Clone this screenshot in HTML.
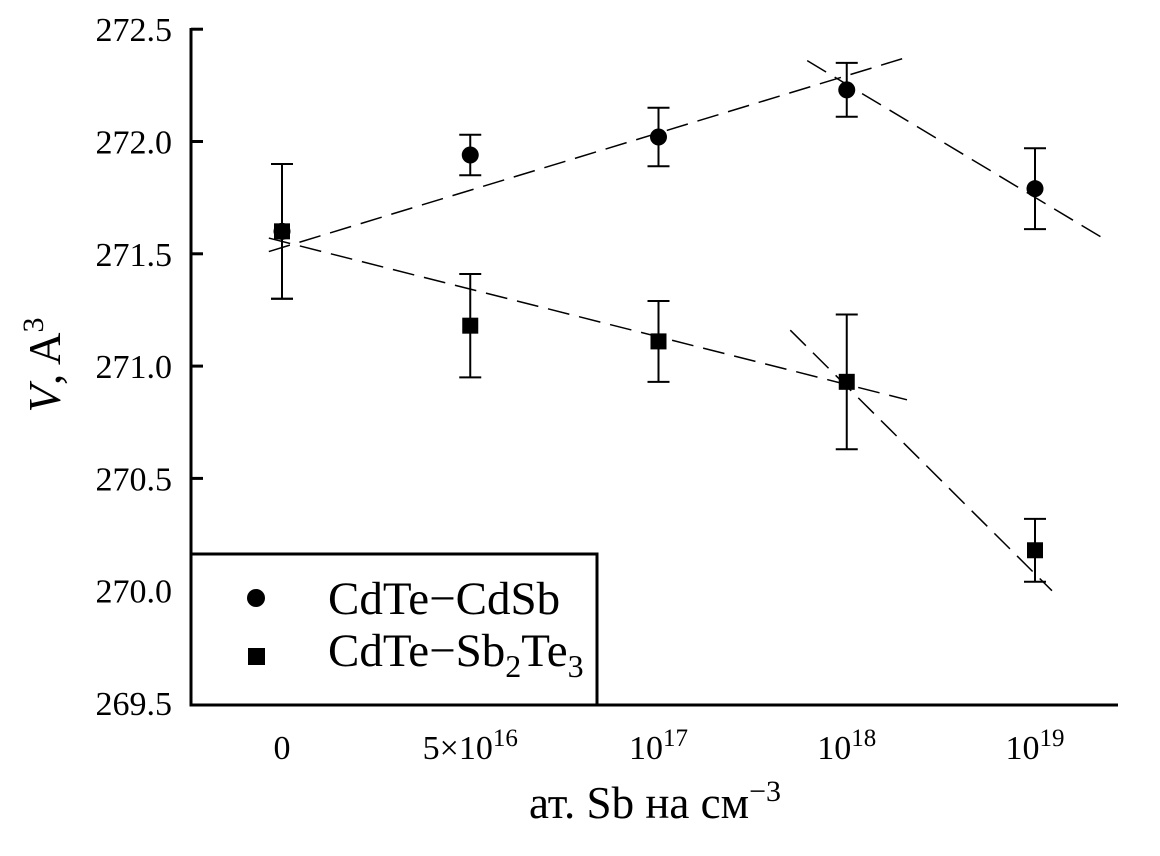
<!DOCTYPE html>
<html><head><meta charset="utf-8"><style>
body{margin:0;background:#fff}
svg{display:block;font-family:"Liberation Serif",serif}
</style></head><body>
<svg id="c" width="1160" height="856"></svg>
<script>
const categories=["0","5×10^16","10^17","10^18","10^19"];
const cdsbValues=[271.60,271.94,272.02,272.23,271.79];
const cdsbErrors=[0.30,0.09,0.13,0.12,0.18];
const sbteValues=[271.60,271.18,271.11,270.93,270.18];
const sbteErrors=[0.30,0.23,0.18,0.30,0.14];
const yTicks=[269.5,270.0,270.5,271.0,271.5,272.0,272.5];
const fitLines=[[-0.07,271.51,3.34,272.38],[2.79,272.36,4.38,271.56],[-0.07,271.57,3.32,270.85],[2.70,271.16,4.09,270.0]];
const NS="http://www.w3.org/2000/svg";
const svg=document.getElementById('c');
function X(i){return 282+i*188.25;}
function Y(v){return 703-(v-269.5)*224.6;}
function mk(t,a,p){const e=document.createElementNS(NS,t);for(const k in a)e.setAttribute(k,a[k]);(p||svg).appendChild(e);return e;}
let ax=mk('path',{d:'M191,705 L191,28 M191,705 L1118,705',stroke:'#000','stroke-width':3,fill:'none'});


yTicks.forEach(v=>{
  let t=mk('line',{x1:191,x2:203,y1:Y(v),y2:Y(v),stroke:'#000','stroke-width':3});
  
  
  let l=mk('text',{x:172,y:Y(v)+12,'text-anchor':'end','font-size':34});
  l.textContent=v.toFixed(1);
  
  
});
categories.forEach((c,i)=>{
  let l=mk('text',{x:X(i),y:759,'text-anchor':'middle','font-size':34});
  const p=c.split('^');
  l.appendChild(document.createTextNode(p[0]));
  if(p[1]){const s=mk('tspan',{dy:-13,'font-size':25},l);s.textContent=p[1];}
  
  
});
fitLines.forEach(f=>{
  let l=mk('line',{x1:X(f[0]),y1:Y(f[1]),x2:X(f[2]),y2:Y(f[3]),stroke:'#000','stroke-width':1.5,'stroke-dasharray':'22 10'});
  
  
});
function errbar(i,v,e){
  const x=X(i);
  let g=mk('path',{d:`M${x},${Y(v+e)}L${x},${Y(v-e)}M${x-11},${Y(v+e)}L${x+11},${Y(v+e)}M${x-11},${Y(v-e)}L${x+11},${Y(v-e)}`,stroke:'#000','stroke-width':2,fill:'none'});
  
  
}
sbteValues.forEach((v,i)=>{errbar(i,v,sbteErrors[i]);
  let r=mk('rect',{x:X(i)-8,y:Y(v)-8,width:16,height:16,fill:'#000'});
  
  
});
cdsbValues.forEach((v,i)=>{errbar(i,v,cdsbErrors[i]);
  let c=mk('circle',{cx:X(i),cy:Y(v),r:8.5,fill:'#000'});
  
  
});
</script>
<svg style="position:absolute;left:0;top:0" width="1160" height="856">
<g>
<rect x="191" y="554" width="406" height="151" fill="#fff" stroke="#000" stroke-width="3"/>
<circle cx="256" cy="598" r="9" fill="#000"/>
<rect x="248" y="648" width="17" height="17" fill="#000"/>
<text x="328" y="614" font-size="47" font-family="Liberation Serif,serif">CdTe−CdSb</text>
<text x="328" y="666" font-size="47" font-family="Liberation Serif,serif">CdTe−Sb<tspan dy="11" font-size="32">2</tspan><tspan dy="-11">Te</tspan><tspan dy="11" font-size="32">3</tspan></text>
</g>
<text x="655" y="818" text-anchor="middle" font-size="45" font-family="Liberation Serif,serif">ат. Sb на см<tspan dy="-17" font-size="30">−3</tspan></text>
<text transform="translate(60,365) rotate(-90)" text-anchor="middle" font-size="45" font-family="Liberation Serif,serif"><tspan font-style="italic">V</tspan>, A<tspan dy="-17" font-size="30">3</tspan></text>
</svg>
</body></html>
